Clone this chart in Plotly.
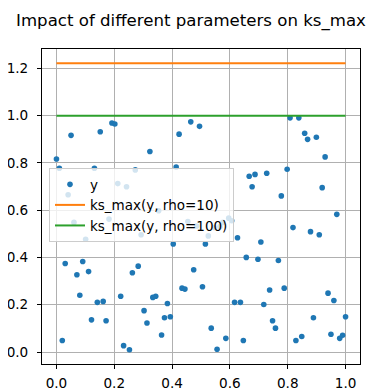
import numpy as np
import plotly.graph_objects as go

x_vals = [
    0.0000, 0.0101, 0.0202, 0.0303, 0.0404, 0.0505, 0.0606, 0.0707, 0.0808, 0.0909,
    0.1010, 0.1111, 0.1212, 0.1313, 0.1414, 0.1515, 0.1616, 0.1717, 0.1818, 0.1919,
    0.2020, 0.2121, 0.2222, 0.2323, 0.2424, 0.2525, 0.2626, 0.2727, 0.2828, 0.2929,
    0.3030, 0.3131, 0.3232, 0.3333, 0.3434, 0.3535, 0.3636, 0.3737, 0.3838, 0.3939,
    0.4040, 0.4141, 0.4242, 0.4343, 0.4444, 0.4545, 0.4646, 0.4747, 0.4848, 0.4949,
    0.5051, 0.5152, 0.5253, 0.5354, 0.5455, 0.5556, 0.5657, 0.5758, 0.5859, 0.5960,
    0.6061, 0.6162, 0.6263, 0.6364, 0.6465, 0.6566, 0.6667, 0.6768, 0.6869, 0.6970,
    0.7071, 0.7172, 0.7273, 0.7374, 0.7475, 0.7576, 0.7677, 0.7778, 0.7879, 0.7980,
    0.8081, 0.8182, 0.8283, 0.8384, 0.8485, 0.8586, 0.8687, 0.8788, 0.8889, 0.8990,
    0.9091, 0.9192, 0.9293, 0.9394, 0.9495, 0.9596, 0.9697, 0.9798, 0.9899, 1.0000,
]

y_vals = [
    0.816, 0.777, 0.049, 0.374, 0.665, 0.916, 0.548, 0.327, 0.240, 0.383,
    0.477, 0.340, 0.136, 0.777, 0.210, 0.931, 0.214, 0.132, 0.562, 0.968,
    0.964, 0.712, 0.236, 0.027, 0.699, 0.010, 0.335, 0.770, 0.363, 0.496,
    0.175, 0.123, 0.848, 0.231, 0.236, 0.597, 0.072, 0.145, 0.205, 0.149,
    0.457, 0.782, 0.921, 0.270, 0.266, 0.552, 0.973, 0.348, 0.533, 0.954,
    0.276, 0.457, 0.491, 0.101, 0.526, 0.012, 0.530, 0.548, 0.058, 0.566,
    0.555, 0.210, 0.483, 0.210, 0.049, 0.400, 0.743, 0.699, 0.751, 0.392,
    0.465, 0.201, 0.756, 0.262, 0.132, 0.101, 0.387, 0.660, 0.270, 0.773,
    0.990, 0.526, 0.049, 0.990, 0.066, 0.925, 0.899, 0.509, 0.145, 0.908,
    0.496, 0.695, 0.825, 0.249, 0.075, 0.218, 0.582, 0.058, 0.071, 0.149,
]

rho_values = [10, 100]
series_colors = ["#ff7f0e", "#2ca02c"]
x_tick_vals = [0.0, 0.2, 0.4, 0.6, 0.8, 1.0]
x_tick_text = ["0.0", "0.2", "0.4", "0.6", "0.8", "1.0"]
y_tick_vals = [0.0, 0.2, 0.4, 0.6, 0.8, 1.0, 1.2]
y_tick_text = ["0.0", "0.2", "0.4", "0.6", "0.8", "1.0", "1.2"]


def ks_max(y, rho):
    y = np.asarray(y, dtype=float)
    m = y.max()
    return m + np.log(np.sum(np.exp(rho * (y - m)))) / rho


FONT = "DejaVu Sans"
# The page body has an 8px default margin, so the figure is sized to fit
# the remaining window area.
BODY = 8
W, H = 377 - BODY, 391 - BODY

fig = go.Figure()
fig.add_trace(go.Scatter(
    x=x_vals, y=y_vals, mode="markers", name="y",
    marker=dict(color="#1f77b4", size=5.6, line=dict(width=0)),
))
ks_levels = []
for rho, col in zip(rho_values, series_colors):
    k = ks_max(y_vals, rho)
    ks_levels.append(k)
    fig.add_trace(go.Scatter(
        x=x_vals, y=[k] * len(x_vals), mode="lines",
        name=f"ks_max(y, rho={rho})",
        line=dict(color=col, width=2),
    ))

xmin, xmax = min(x_vals), max(x_vals)
xs = xmax - xmin
all_y = list(y_vals) + ks_levels
ymin, ymax = min(all_y), max(all_y)
ys = ymax - ymin

axis_common = dict(
    showgrid=True, gridcolor="#b0b0b0", gridwidth=0.8,
    showline=True, linecolor="black", linewidth=1, mirror=True,
    ticks="outside", ticklen=4, tickwidth=1, tickcolor="black",
    zeroline=False, automargin=False,
    tickfont=dict(family=FONT, size=13.6, color="black"),
)

fig.update_layout(
    template="none",
    width=W, height=H,
    margin=dict(l=42 - BODY, r=25 - BODY, t=49 - BODY, b=35 - BODY, pad=0),
    paper_bgcolor="white", plot_bgcolor="white",
    font=dict(family=FONT, size=13.6, color="black"),
    title=dict(
        text="Impact of different parameters on ks_max",
        x=(191 - BODY) / W, xref="container", xanchor="center",
        y=1 - (20 - BODY) / H, yref="container", yanchor="middle",
        font=dict(family=FONT, size=16.6, color="black"),
        automargin=False,
    ),
    xaxis=dict(range=[xmin - 0.05 * xs, xmax + 0.05 * xs],
               tickvals=x_tick_vals, ticktext=x_tick_text,
               ticklabelstandoff=3, **axis_common),
    yaxis=dict(range=[ymin - 0.05 * ys, ymax + 0.05 * ys],
               tickvals=y_tick_vals, ticktext=y_tick_text,
               ticklabelstandoff=6, **axis_common),
    showlegend=True,
    legend=dict(
        x=0.022, y=0.622, xanchor="left", yanchor="top",
        bgcolor="rgba(255,255,255,0.8)", bordercolor="#cccccc", borderwidth=1,
        font=dict(family=FONT, size=13.5, color="black"),
        itemwidth=30, tracegroupgap=0,
    ),
)

fig.write_html("out.html")
